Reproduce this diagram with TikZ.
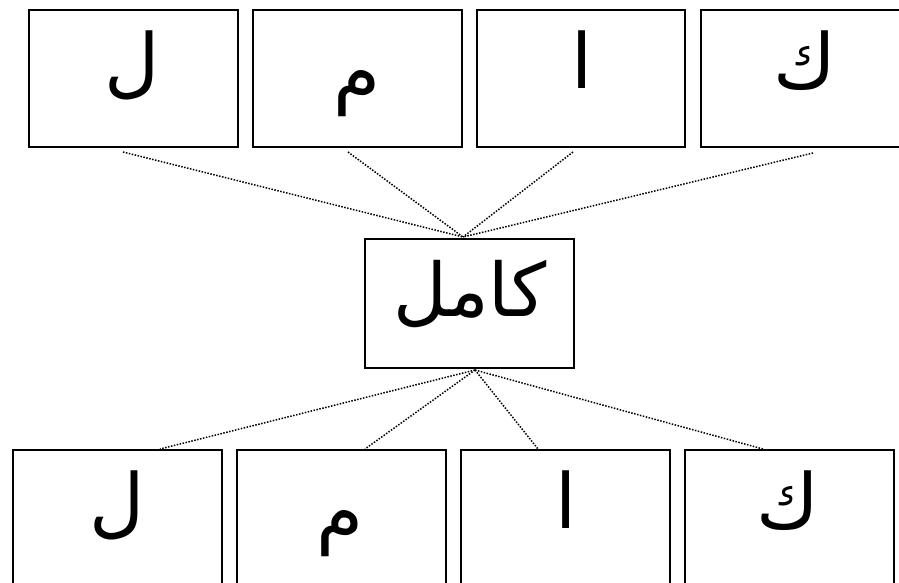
\documentclass[tikz,border=0pt]{standalone}
\usepackage{fontspec}
\TeXXeTstate=1
\newfontfamily\arabicfont[Script=Arabic]{DejaVu Sans}
\tikzset{
  box/.style={draw, line width=1.7pt, inner sep=0pt, anchor=north west, minimum width=209pt, minimum height=137pt},
  letter/.style={anchor=base, inner sep=0pt, font=\arabicfont\fontsize{76}{84}\selectfont},
  word/.style={anchor=base, inner sep=0pt, font=\arabicfont\fontsize{74}{82}\selectfont},
  link/.style={line width=1.5pt, dash pattern=on 1.5pt off 1.5pt}
}
\begin{document}
\begin{tikzpicture}[x=1pt,y=-1pt]
\useasboundingbox (0,0) rectangle (899,582);
\clip (0,0) rectangle (899,582);
% top row
\node[box] (t1) at (28,9) {};
\node[box] (t2) at (252,9) {};
\node[box, minimum width=208pt] (t3) at (476,9) {};
\node[box] (t4) at (700,9) {};
\node[letter] (lt1) at (132,88) {ل};
\node[letter] (lt2) at (357,98) {م};
\node[letter] (lt3) at (582,88) {ا};
\node[letter] (lt4) at (805,88) {ك};
% center
\node[box, minimum height=129pt] (c) at (364,238) {};
\node[word] (lc) at (470,316) {\beginR كامل\endR};
% bottom row
\node[box, minimum height=150pt] (b1) at (12,449) {};
\node[box, minimum height=150pt] (b2) at (236,449) {};
\node[box, minimum height=150pt] (b3) at (460,449) {};
\node[box, minimum height=150pt] (b4) at (684,449) {};
\node[letter] (lb1) at (117,528) {ل};
\node[letter] (lb2) at (340,538) {م};
\node[letter] (lb3) at (566,528) {ا};
\node[letter] (lb4) at (788,528) {ك};
% connector ends
\coordinate (ht) at (463,237);
\coordinate (hb) at (475,370);
\coordinate (e1) at (123,152);
\coordinate (e2) at (348,152);
\coordinate (e3) at (573,152);
\coordinate (e4) at (813,153);
\coordinate (f1) at (160,449);
\coordinate (f2) at (365,449);
\coordinate (f3) at (538,449);
\coordinate (f4) at (763,449);
\foreach \p in {e1,e2,e3,e4} \draw[link] (\p) -- (ht);
\foreach \p in {f1,f2,f3,f4} \draw[link] (hb) -- (\p);
\end{tikzpicture}
\end{document}
